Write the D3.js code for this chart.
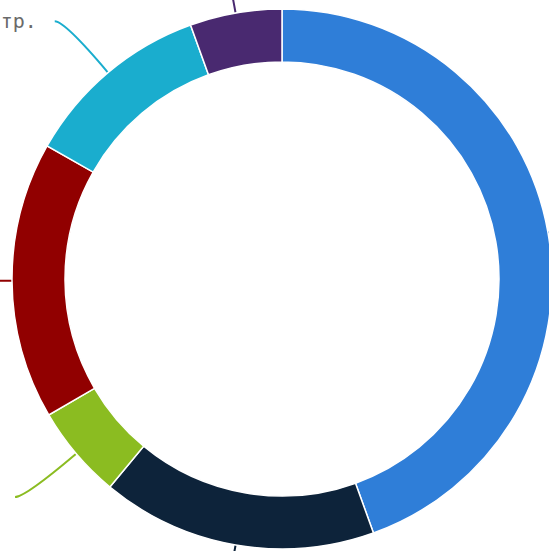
<!DOCTYPE html>
<html>
<head>
<meta charset="utf-8">
<script src="https://cdn.jsdelivr.net/npm/d3@7"></script>
<style>body{margin:0;overflow:hidden;background:#fff}</style>
</head>
<body>
<svg></svg>
<script>
// slices, clockwise from 12 o'clock
var categories = ["Моск.", "Сиб.", "Юж.", "Сев.", "Центр.", "Вост."]
var values = [44.5, 16.5, 5.6, 16.6, 11.3, 5.5]
var colors = ['#2f7ed8', '#0d233a', '#8bbc21', '#910000', '#1aadce', '#492970']

function main(){
    var width = 549
    var height = 551
    var cx = 282, cy = 279
    var outerR = 270, innerR = 217
    var labelR = 337

    var svg = d3.select('svg').attr('width', width).attr('height', height)
    var data = categories.map((c, i) => ({name: c, value: values[i]}))

    var pie = d3.pie().sort(null).value(d => d.value)
    var arc = d3.arc().innerRadius(innerR).outerRadius(outerR)
    var arcs = pie(data)

    var g = svg.append('g').attr('transform', 'translate(' + cx + ',' + cy + ')')

    // connectors go under the ring
    arcs.forEach(function(d, i){
        var mid = (d.startAngle + d.endAngle) / 2
        var sx = outerR * Math.sin(mid), sy = -outerR * Math.cos(mid)
        var kx = labelR * Math.sin(mid), ky = -labelR * Math.cos(mid)
        var side = Math.sin(mid) < 0 ? -1 : 1
        var lx = side * (Math.sqrt(Math.max(labelR * labelR - ky * ky, 0)) + 10)
        g.append('path')
            .attr('d', 'M' + sx + ',' + sy + ' Q' + kx + ',' + ky + ' ' + lx + ',' + ky)
            .attr('fill', 'none')
            .attr('stroke', colors[i])
            .attr('stroke-width', 2)
        g.append('text')
            .attr('x', lx + side * 18)
            .attr('y', ky + 7)
            .attr('text-anchor', side < 0 ? 'end' : 'start')
            .style('font-family', '"DejaVu Sans Mono", monospace')
            .style('font-size', '20px')
            .style('fill', '#6a6a6a')
            .text(d.data.name)
    })

    g.selectAll('path.slice')
        .data(arcs)
        .join('path')
        .attr('class', 'slice')
        .attr('d', arc)
        .attr('fill', (d, i) => colors[i])
        .attr('stroke', '#fff')
        .attr('stroke-width', 1.5)
}
main()
</script>
</body>
</html>
